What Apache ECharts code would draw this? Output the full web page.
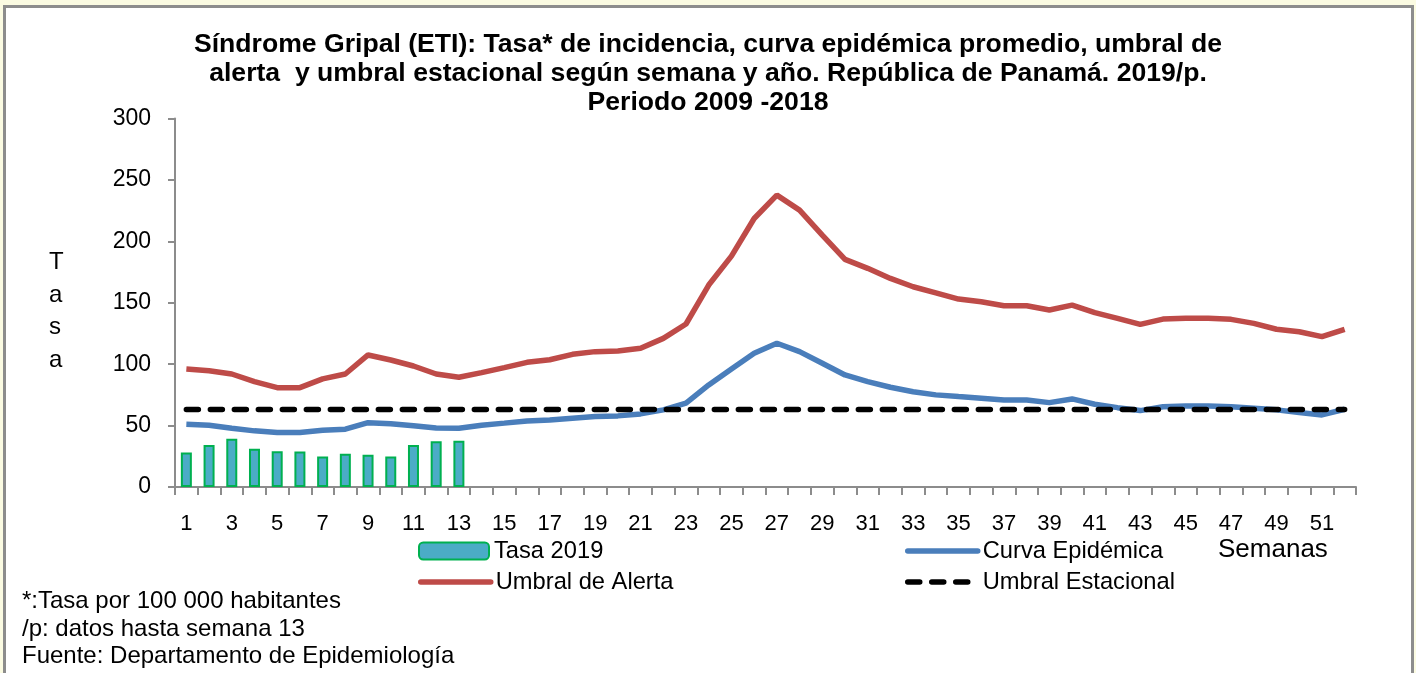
<!DOCTYPE html>
<html>
<head>
<meta charset="utf-8">
<script src="https://cdn.jsdelivr.net/npm/echarts@6/dist/echarts.min.js"></script>
<style>
html,body{margin:0;padding:0;width:1416px;height:673px;background:#fbfbe2;overflow:hidden;}
#frame{position:absolute;left:3px;top:5px;width:1405px;height:666px;background:#fff;border-left:3px solid #8d8d8d;border-top:3px solid #8d8d8d;border-right:3px solid #8d8d8d;border-bottom:2px solid #d6d6d6;box-sizing:content-box;}
#chart{position:absolute;left:0;top:0;width:1416px;height:673px;}
</style>
</head>
<body>
<div id="frame"></div>
<div id="chart"></div>
<script>
const semanas = Array.from({length: 52}, (_, i) => String(i + 1));
const tasa2019 = [28.0, 34.1, 39.2, 31.1, 29.2, 28.9, 24.8, 27.0, 26.2, 24.8, 34.1, 37.3, 37.6];
const curvaEpidemica = [51.1, 50.3, 47.9, 45.7, 44.3, 44.3, 46.2, 47.1, 52.4, 51.4, 49.8, 48.1, 47.9,
  50.3, 52.0, 53.8, 54.6, 56.0, 57.3, 57.9, 59.5, 62.8, 68.2, 83.1, 96.1, 108.9, 117.0,
  110.2, 100.7, 91.2, 85.8, 81.2, 77.6, 75.0, 73.6, 72.3, 70.9, 70.9, 68.7, 71.7, 67.4,
  64.6, 62.2, 65.4, 66.0, 66.0, 65.4, 64.1, 62.8, 60.6, 58.7, 63.3];
const umbralAlerta = [96.1, 94.7, 92.0, 85.8, 80.9, 80.9, 88.0, 92.0, 107.5, 103.4, 98.5, 92.0, 89.3,
  93.1, 97.2, 101.5, 103.6, 108.0, 110.2, 110.7, 112.9, 121.0, 132.7, 164.4, 188.0, 218.6, 237.6,
  225.4, 205.0, 185.3, 178.0, 169.8, 163.0, 158.1, 153.0, 150.8, 147.6, 147.6, 144.1, 148.1, 141.9,
  137.3, 132.4, 136.7, 137.3, 137.3, 136.5, 133.2, 128.4, 126.4, 122.4, 128.4];
const umbralEstacional = semanas.map(() => 63);
const yTicks = [0, 50, 100, 150, 200, 250, 300];

const titleText = 'Síndrome Gripal (ETI): Tasa* de incidencia, curva epidémica promedio, umbral de\nalerta  y umbral estacional según semana y año. República de Panamá. 2019/p.\nPeriodo 2009 -2018';
const notas = ['*:Tasa por 100 000 habitantes', '/p: datos hasta semana 13', 'Fuente: Departamento de Epidemiología'];

const FONT = 'Liberation Sans, Arial, sans-serif';
const chart = echarts.init(document.getElementById('chart'), null, {renderer: 'canvas'});
const legendFont = {fontFamily: FONT, fontSize: 23.7, color: '#000'};
const mkLegend = (name, left, top, extra) => Object.assign({
  data: [name], left: left, top: top, itemWidth: 70, itemHeight: 17, itemGap: 5,
  padding: 0, textStyle: legendFont, selectedMode: false
}, extra || {});
const lineLegendExtra = (color, type) => ({
  itemStyle: {opacity: 0},
  lineStyle: {color: color, width: 5.5, type: type, cap: 'round', opacity: 1}
});
chart.setOption({
  animation: false,
  backgroundColor: 'transparent',
  legend: [
    mkLegend('Tasa 2019', 418, 539),
    mkLegend('Curva Epidémica', 905, 539, lineLegendExtra('#4A7EBB', 'solid')),
    mkLegend('Umbral de Alerta', 418, 570, lineLegendExtra('#BE4B48', 'solid')),
    mkLegend('Umbral Estacional', 905, 570, lineLegendExtra('#000', [12, 12]))
  ],
  grid: {left: 175, right: 60, top: 118.5, bottom: 186, containLabel: false},
  xAxis: {
    type: 'category', data: semanas, boundaryGap: true,
    axisLine: {lineStyle: {color: '#8c8c8c', width: 2}},
    axisTick: {show: true, interval: 0, length: 8, lineStyle: {color: '#8c8c8c', width: 2}},
    axisLabel: {interval: 1, margin: 26, fontFamily: FONT, fontSize: 22, color: '#000'}
  },
  yAxis: {
    type: 'value', min: yTicks[0], max: yTicks[yTicks.length - 1], interval: 50,
    axisLine: {show: true, lineStyle: {color: '#8c8c8c', width: 2}},
    axisTick: {show: true, length: 7, lineStyle: {color: '#8c8c8c', width: 2}},
    splitLine: {show: false},
    axisLabel: {margin: 24, fontFamily: FONT, fontSize: 23, color: '#000'}
  },
  series: [
    {name: 'Tasa 2019', type: 'bar', data: tasa2019, barWidth: 11,
     itemStyle: {color: '#4BACC6', borderColor: '#00B050', borderWidth: 2}},
    {name: 'Curva Epidémica', type: 'line', data: curvaEpidemica, symbol: 'none', showSymbol: false,
     lineStyle: {color: '#4A7EBB', width: 5.5}, itemStyle: {color: '#4A7EBB'}},
    {name: 'Umbral de Alerta', type: 'line', data: umbralAlerta, symbol: 'none', showSymbol: false,
     lineStyle: {color: '#BE4B48', width: 5.5}, itemStyle: {color: '#BE4B48'}},
    {name: 'Umbral Estacional', type: 'line', data: umbralEstacional, symbol: 'none', showSymbol: false,
     lineStyle: {color: '#000', width: 5.5, type: [12, 12], cap: 'round'}, itemStyle: {color: '#000'}}
  ],
  graphic: [
    {type: 'text', x: 708, y: 30, style: {text: titleText, textAlign: 'center', fontFamily: FONT, fontWeight: 'bold', fontSize: 26.6, lineHeight: 29, fill: '#000'}},
    {type: 'text', left: 49, top: 246, style: {text: 'T\na\ns\na', fontFamily: FONT, fontSize: 24, lineHeight: 32.7, fill: '#000'}},
    {type: 'text', left: 1218, top: 537, style: {text: 'Semanas', fontFamily: FONT, fontSize: 26, fill: '#000'}},
    {type: 'text', left: 22, top: 588, style: {text: notas.join('\n'), fontFamily: FONT, fontSize: 24, lineHeight: 27.5, fill: '#000'}}
  ]
});
</script>
</body>
</html>
